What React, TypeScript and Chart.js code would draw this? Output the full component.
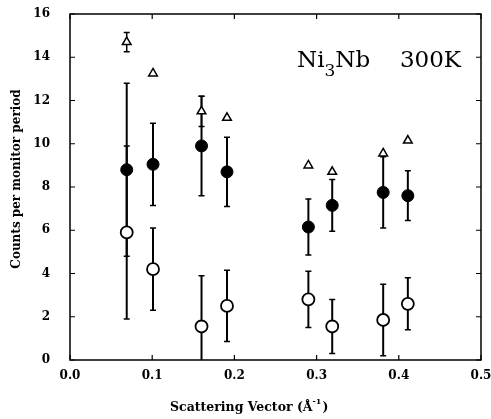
import React, { useEffect, useRef } from "react";
import { Chart, registerables } from "chart.js";
Chart.register(...registerables);

// Scattering vector (Å^-1)
const qValues = [0.069, 0.101, 0.16, 0.191, 0.29, 0.319, 0.381, 0.411];
// filled circles
const filledCounts = [8.8, 9.05, 9.9, 8.7, 6.15, 7.15, 7.75, 7.6];
const filledErr = [4.0, 1.9, 2.3, 1.6, 1.3, 1.2, 1.65, 1.15];
// open circles
const openCounts = [5.9, 4.2, 1.55, 2.5, 2.8, 1.55, 1.85, 2.6];
const openErr = [4.0, 1.9, 2.35, 1.65, 1.3, 1.25, 1.65, 1.2];
// open triangles
const triangleCounts = [14.7, 13.25, 11.5, 11.2, 9.0, 8.7, 9.55, 10.15];
const triangleErr = [0.45, 0, 0.7, 0, 0, 0, 0, 0];

const xTicks = [0, 0.1, 0.2, 0.3, 0.4, 0.5];
const yTicks = [0, 2, 4, 6, 8, 10, 12, 14, 16];

const xTitle = "Scattering Vector (Å";
const xTitleSup = "-1";
const yTitle = "Counts per monitor period";

const FONT = "'DejaVu Serif', serif";

const errorBarPlugin = {
  id: "errorBars",
  beforeDatasetsDraw(chart: any) {
    const { ctx, chartArea, scales } = chart;
    const y = scales.y;
    ctx.save();
    ctx.beginPath();
    ctx.rect(chartArea.left, chartArea.top, chartArea.right - chartArea.left, chartArea.bottom - chartArea.top);
    ctx.clip();
    ctx.strokeStyle = "#000";
    chart.data.datasets.forEach((ds: any, di: number) => {
      const meta = chart.getDatasetMeta(di);
      const errs: number[] = ds.errors || [];
      meta.data.forEach((pt: any, i: number) => {
        const e = errs[i];
        if (!e) return;
        const v = ds.data[i].y;
        const top = y.getPixelForValue(v + e);
        const bot = y.getPixelForValue(v - e);
        const x = pt.x;
        ctx.lineWidth = ds.errWidth || 2;
        ctx.beginPath();
        ctx.moveTo(x, top);
        ctx.lineTo(x, bot);
        ctx.stroke();
        ctx.lineWidth = 1.5;
        ctx.beginPath();
        ctx.moveTo(x - 3, top);
        ctx.lineTo(x + 3, top);
        ctx.moveTo(x - 3, bot);
        ctx.lineTo(x + 3, bot);
        ctx.stroke();
      });
    });
    ctx.restore();
  },
};

const framePlugin = {
  id: "frame",
  afterDraw(chart: any) {
    const { ctx, chartArea, scales } = chart;
    const { left, right, top, bottom } = chartArea;
    ctx.save();
    ctx.strokeStyle = "#000";
    ctx.lineWidth = 1.5;
    ctx.strokeRect(left, top, right - left, bottom - top);
    ctx.lineWidth = 1.2;
    const tl = 5;
    ctx.beginPath();
    xTicks.forEach((t) => {
      const px = scales.x.getPixelForValue(t);
      ctx.moveTo(px, bottom);
      ctx.lineTo(px, bottom - tl);
      ctx.moveTo(px, top);
      ctx.lineTo(px, top + tl);
    });
    yTicks.forEach((t) => {
      const py = scales.y.getPixelForValue(t);
      ctx.moveTo(left, py);
      ctx.lineTo(left + tl, py);
      ctx.moveTo(right, py);
      ctx.lineTo(right - tl, py);
    });
    ctx.stroke();

    ctx.fillStyle = "#000";
    ctx.textBaseline = "alphabetic";

    // x axis title
    ctx.textAlign = "left";
    ctx.font = `bold 12.5px ${FONT}`;
    let tx = 170;
    const tb = 411;
    ctx.fillText(xTitle, tx, tb);
    tx += ctx.measureText(xTitle).width;
    ctx.font = `bold 8px ${FONT}`;
    ctx.fillText(xTitleSup, tx, tb - 7);
    tx += ctx.measureText(xTitleSup).width + 1;
    ctx.font = `bold 12.5px ${FONT}`;
    ctx.fillText(")", tx, tb);

    // y axis title
    ctx.save();
    ctx.translate(20, 179);
    ctx.rotate(-Math.PI / 2);
    ctx.textAlign = "center";
    ctx.font = `bold 12px ${FONT}`;
    ctx.fillText(yTitle, 0, 0);
    ctx.restore();

    // annotation  Ni3Nb  300K
    ctx.textAlign = "left";
    const big = `23px ${FONT}`;
    const small = `17px ${FONT}`;
    let x = 297;
    const base = 67;
    ctx.font = big;
    ctx.fillText("Ni", x, base);
    x += ctx.measureText("Ni").width;
    ctx.font = small;
    ctx.fillText("3", x, base + 9);
    x += ctx.measureText("3").width;
    ctx.font = big;
    ctx.fillText("Nb", x, base);
    ctx.textAlign = "right";
    ctx.fillText("300K", 461, base);
    ctx.restore();
  },
};

export default function App() {
  const ref = useRef<HTMLCanvasElement | null>(null);
  useEffect(() => {
    if (!ref.current) return;
    const mk = (ys: number[]) => qValues.map((q, i) => ({ x: q, y: ys[i] }));
    const chart = new Chart(ref.current, {
      type: "scatter",
      data: {
        datasets: [
          {
            label: "triangles",
            data: mk(triangleCounts),
            errors: triangleErr,
            errWidth: 1.5,
            pointStyle: "triangle",
            pointRadius: 5,
            backgroundColor: "#fff",
            borderColor: "#000",
            borderWidth: 1.5,
          } as any,
          {
            label: "filled",
            data: mk(filledCounts),
            errors: filledErr,
            pointStyle: "circle",
            pointRadius: 6,
            backgroundColor: "#000",
            borderColor: "#000",
            borderWidth: 1,
          } as any,
          {
            label: "open",
            data: mk(openCounts),
            errors: openErr,
            pointStyle: "circle",
            pointRadius: 6,
            backgroundColor: "#fff",
            borderColor: "#000",
            borderWidth: 1.8,
          } as any,
        ],
      },
      options: {
        animation: false,
        responsive: false,
        maintainAspectRatio: false,
        layout: { padding: { left: 0, right: 10, top: 14, bottom: 0 } },
        plugins: { legend: { display: false }, tooltip: { enabled: false } },
        scales: {
          x: {
            type: "linear",
            min: 0,
            max: 0.5,
            afterBuildTicks: (s: any) => {
              s.ticks = xTicks.map((v) => ({ value: v }));
            },
            afterFit: (s: any) => {
              s.height = 59;
              s.paddingLeft = 0;
              s.paddingRight = 0;
            },
            grid: { display: false },
            border: { display: false },
            ticks: {
              color: "#000",
              padding: 1,
              font: { family: FONT, size: 12, weight: "bold" },
              callback: (v: any) => Number(v).toFixed(1),
            },
            title: { display: false },
          },
          y: {
            type: "linear",
            min: 0,
            max: 16,
            afterBuildTicks: (s: any) => {
              s.ticks = yTicks.map((v) => ({ value: v }));
            },
            afterFit: (s: any) => {
              s.width = 70;
              s.paddingTop = 0;
              s.paddingBottom = 0;
            },
            grid: { display: false },
            border: { display: false },
            ticks: {
              color: "#000",
              padding: 12,
              font: { family: FONT, size: 12, weight: "bold" },
            },
            title: { display: false },
          },
        },
      } as any,
      plugins: [errorBarPlugin, framePlugin],
    });
    return () => chart.destroy();
  }, []);
  return (
    <div style={{ position: "fixed", left: 0, top: 0, width: 491, height: 419, background: "#fff" }}>
      <canvas ref={ref} width={491} height={419} style={{ width: 491, height: 419, display: "block" }} />
    </div>
  );
}
